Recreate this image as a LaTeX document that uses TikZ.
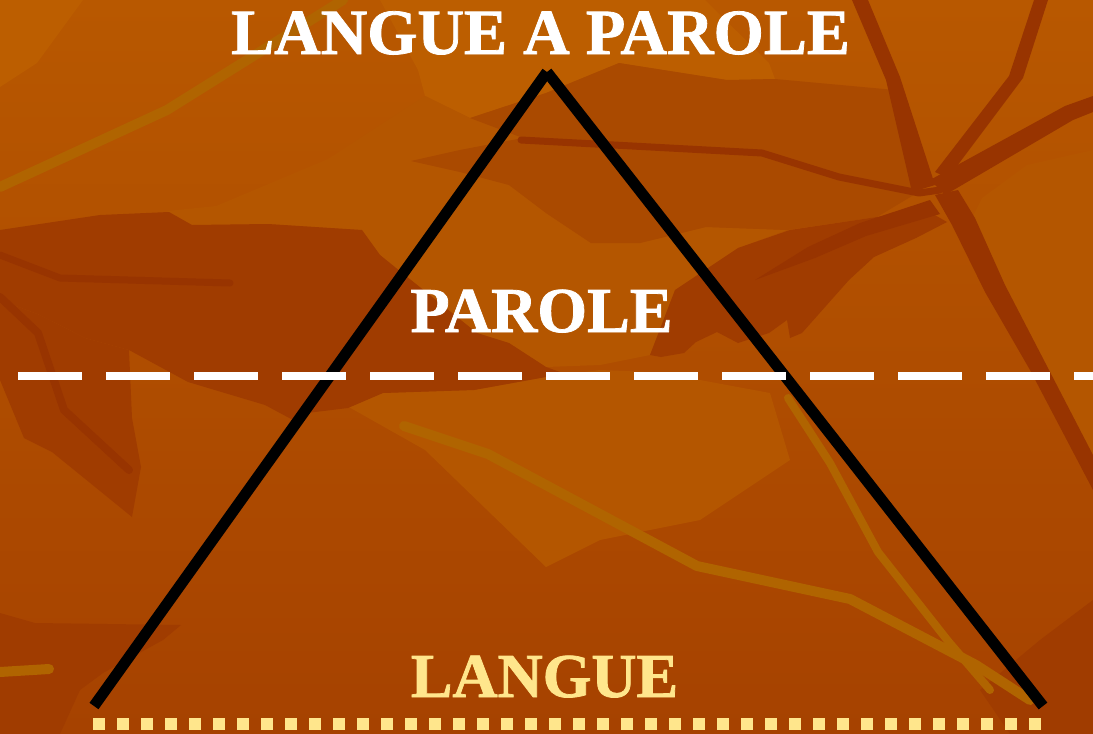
\documentclass[tikz,border=0pt]{standalone}
\usepackage{fontspec}
\setmainfont{Liberation Serif}
\newfontfamily\slidefont{Liberation Serif}[BoldFeatures={FakeBold=1.2}]
\definecolor{slideTop}{RGB}{184,88,0}
\definecolor{slideBottom}{RGB}{166,66,0}
\definecolor{leafLight}{RGB}{188,94,0}
\definecolor{leafPale}{RGB}{180,86,0}
\definecolor{leafMid}{RGB}{170,74,0}
\definecolor{leafDark}{RGB}{160,60,0}
\definecolor{veinDark}{RGB}{152,52,0}
\definecolor{veinOlive}{RGB}{176,100,0}
\definecolor{langueYellow}{RGB}{255,230,140}

\begin{document}
\begin{tikzpicture}[x=1pt, y=-1pt,
    lightleaf/.style={fill=leafLight},
    paleleaf/.style={fill=leafPale},
    midleaf/.style={fill=leafMid},
    darkleaf/.style={fill=leafDark},
    vein/.style={draw=veinDark, line width=9pt, line join=round, line cap=round},
    olive/.style={draw=veinOlive, line width=10pt, line join=round, line cap=round},
    side/.style={draw=black, line width=11pt, line cap=butt},
    cutline/.style={draw=white, line width=8pt, dash pattern=on 64pt off 24pt},
    langueline/.style={draw=langueYellow, line width=12pt, dash pattern=on 12pt off 12pt},
    heading/.style={font=\slidefont\fontsize{64.5}{70}\selectfont\bfseries, text=white, anchor=base, inner sep=0pt},
    tier/.style={font=\slidefont\fontsize{64}{70}\selectfont\bfseries, anchor=base, inner sep=0pt}
]
    \useasboundingbox (0,0) rectangle (1093,734);
    \shade[top color=slideTop, bottom color=slideBottom] (0,0) rectangle (1093,734);

    \fill[lightleaf] (0,0) -- (83,0) -- (37,63) -- (0,87) -- cycle;
    \fill[lightleaf] (380,0) -- (705,0) -- (769,63) -- (775,79) -- (727,80) -- (619,63) -- (546,93) -- (470,118) -- (425,96) -- (418,70) -- cycle;
    \fill[paleleaf] (167,211) -- (216,206) -- (328,159) -- (425,96) -- (470,118) -- (523,138) -- (460,150) -- (411,161) -- (460,172) -- (509,185) -- (546,213) -- (591,243) -- (640,243) -- (706,227) -- (787,230) -- (738,248) -- (675,290) -- (650,355) -- (600,365) -- (546,367) -- (509,343) -- (477,333) -- (401,272) -- (380,255) -- (362,230) -- (268,224) -- (192,225) -- cycle;
    \fill[midleaf] (470,118) -- (546,93) -- (619,63) -- (727,80) -- (775,79) -- (895,90) -- (922,190) -- (877,217) -- (787,230) -- (706,227) -- (640,243) -- (591,243) -- (546,213) -- (509,185) -- (460,172) -- (411,161) -- (460,150) -- (523,138) -- cycle;
    \fill[paleleaf] (1093,150) -- (1027,165) -- (982,198) -- (972,218) -- (1000,290) -- (1093,460) -- cycle;
    \fill[paleleaf] (324,393) -- (383,393) -- (474,390) -- (546,377) -- (600,370) -- (650,372) -- (700,380) -- (770,393) -- (790,460) -- (700,520) -- (600,540) -- (546,567) -- (425,450) -- cycle;

    \fill[darkleaf] (0,230) -- (100,215) -- (169,212) -- (192,225) -- (268,224) -- (362,230) -- (380,255) -- (401,272) -- (477,333) -- (509,343) -- (546,367) -- (560,372) -- (546,377) -- (474,390) -- (383,393) -- (348,408) -- (307,413) -- (293,420) -- (265,405) -- (188,382) -- (129,350) -- (85,338) -- (40,315) -- (0,300) -- cycle;
    \fill[darkleaf] (650,355) -- (675,290) -- (738,248) -- (790,230) -- (877,217) -- (926,210) -- (947,222) -- (916,238) -- (874,257) -- (849,280) -- (802,333) -- (790,338) -- (787,320) -- (769,333) -- (738,343) -- (717,332) -- (696,342) -- (684,353) -- (661,357) -- cycle;
    \fill[darkleaf] (85,338) -- (129,350) -- (132,418) -- (141,467) -- (132,517) -- (52,452) -- (24,438) -- (0,380) -- (0,300) -- (40,315) -- cycle;
    \fill[darkleaf] (0,613) -- (35,623) -- (181,625) -- (163,640) -- (103,673) -- (80,690) -- (60,734) -- (0,734) -- cycle;
    \fill[darkleaf] (1093,600) -- (1040,640) -- (980,690) -- (1010,734) -- (1093,734) -- cycle;

    \draw[vein, line width=7pt] (521,140) -- (762,153) -- (839,177) -- (919,193) -- (940,190);
    \fill[veinDark] (852,0) -- (868,0) -- (900,77) -- (935,185) -- (912,192) -- (886,80) -- cycle;
    \fill[veinDark] (1034,0) -- (1048,0) -- (1023,78) -- (948,178) -- (935,172) -- (1009,76) -- cycle;
    \fill[veinDark] (930,180) -- (1065,106) -- (1093,96) -- (1093,112) -- (1073,120) -- (945,195) -- cycle;
    \fill[veinDark] (935,195) -- (958,190) -- (975,218) -- (1005,285) -- (1093,455) -- (1093,490) -- (1030,370) -- (985,292) -- (952,225) -- cycle;
    \fill[veinDark] (930,200) -- (940,214) -- (866,236) -- (815,258) -- (755,280) -- (808,247) -- (860,223) -- cycle;
    \draw[vein, line width=8pt] (0,297) -- (38,333) -- (64,410) -- (129,470);
    \draw[vein, line width=7pt] (0,255) -- (60,278) -- (230,283);

    \draw[olive] (0,187) -- (167,110) -- (343,0);
    \draw[olive] (404,426) -- (488,454) -- (697,566) -- (850,599) -- (976,665) -- (1030,700);
    \draw[olive, line width=8pt] (788,398) -- (830,463) -- (878,552) -- (948,641) -- (990,690);
    \draw[olive] (0,672) -- (49,669);

    \coordinate (leftfoot) at (94,706);
    \coordinate (apex) at (547,72);
    \coordinate (rightfoot) at (1043,706);
    \coordinate (cutL) at (18,375.5);
    \coordinate (cutR) at (1093,375.5);
    \coordinate (langueL) at (93.3,723.5);
    \coordinate (langueR) at (1041.7,723.5);

    \draw[side] (leftfoot) -- (apex);
    \draw[side] (apex) -- (rightfoot);
    \draw[cutline] (cutL) -- (cutR);
    \draw[langueline] (langueL) -- (langueR);

    \node[heading] (title) at (540.5,54) {LANGUE A PAROLE};
    \node[tier, text=white] (parole) at (541.5,332) {PAROLE};
    \node[tier, text=langueYellow, font=\slidefont\fontsize{62.5}{70}\selectfont\bfseries] (langue) at (544.5,697) {LANGUE};
\end{tikzpicture}
\end{document}
